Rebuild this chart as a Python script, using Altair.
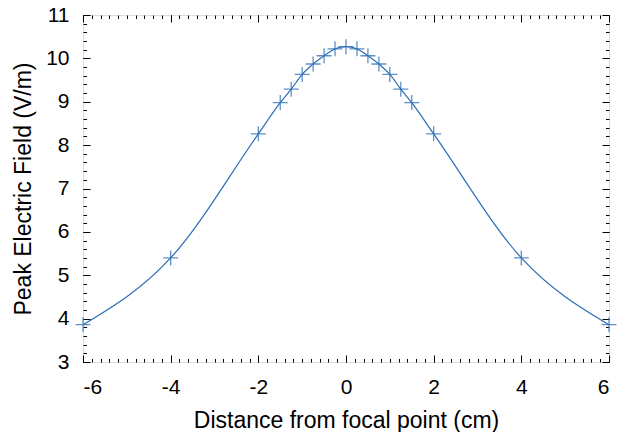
import altair as alt
import pandas as pd

distance = [-6, -4, -2, -1.5, -1.25, -1, -0.75, -0.5, -0.25, 0,
            0.25, 0.5, 0.75, 1, 1.25, 1.5, 2, 4, 6]
field = [3.86, 5.40, 8.26, 8.98, 9.29, 9.63, 9.87, 10.06, 10.22, 10.27,
         10.22, 10.06, 9.87, 9.63, 9.29, 8.98, 8.26, 5.40, 3.86]

x_major = [-6, -4, -2, 0, 2, 4, 6]
y_major = [3, 4, 5, 6, 7, 8, 9, 10, 11]
x_minor = [round(-6 + 0.2 * i, 1) for i in range(61)]
y_minor = [round(3 + 0.2 * i, 1) for i in range(41)]

df = pd.DataFrame({"x": distance, "y": field})

COLOR = "#2a6db5"
FONT = "Liberation Sans"
MAJ = 7
MIN = 3.5

xs = alt.Scale(domain=[-6, 6], nice=False, zero=False)
ys = alt.Scale(domain=[3, 11], nice=False, zero=False)

def ax(orient, values, size, labels=False, title=None, **kw):
    args = dict(orient=orient, values=values, tickSize=size, offset=-size,
                domain=False, grid=False, tickColor="black", tickWidth=1,
                labels=labels)
    if labels:
        args.update(labelFont=FONT, labelFontSize=21, labelColor="black",
                    labelExpr="'' + datum.value")
    if title:
        args.update(title=title, titleFont=FONT, titleFontSize=23,
                    titleFontWeight="normal", titleColor="black",
                    titleBaseline="alphabetic", titleLimit=500)
    else:
        args.update(title=None)
    args.update(kw)
    return alt.Axis(**args)

base = alt.Chart(df)

line = base.mark_line(color=COLOR, strokeWidth=1.2, interpolate="monotone").encode(
    x=alt.X("x:Q", scale=xs, axis=ax("bottom", x_major, MAJ, True,
                                      "Distance from focal point (cm)",
                                      labelPadding=14, titleY=72,
                                      titleX=263, titleAlign="center")),
    y=alt.Y("y:Q", scale=ys, axis=ax("left", y_major, MAJ, True,
                                      "Peak Electric Field (V/m)",
                                      labelPadding=14, titleX=-60,
                                      titleY=173.5, titleAlign="center",
                                      titleAngle=270)),
)

plus = "M-1,0L1,0M0,-1L0,1"
pts = base.mark_point(shape=plus, size=225, color=COLOR, filled=False,
                      strokeWidth=1.3, opacity=0.75).encode(
    x=alt.X("x:Q", scale=xs, axis=ax("top", x_major, MAJ)),
    y=alt.Y("y:Q", scale=ys, axis=ax("right", y_major, MAJ)),
)

minor1 = base.mark_point(opacity=0).encode(
    x=alt.X("x:Q", scale=xs, axis=ax("bottom", x_minor, MIN)),
    y=alt.Y("y:Q", scale=ys, axis=ax("left", y_minor, MIN)),
)
minor2 = base.mark_point(opacity=0).encode(
    x=alt.X("x:Q", scale=xs, axis=ax("top", x_minor, MIN)),
    y=alt.Y("y:Q", scale=ys, axis=ax("right", y_minor, MIN)),
)

chart = alt.layer(line, pts, minor1, minor2).resolve_axis(
    x="independent", y="independent"
).properties(
    width=526, height=347,
    autosize=alt.AutoSizeParams(type="none"),
    padding={"left": 75, "top": 7, "right": 12, "bottom": 70},
).configure_view(
    stroke="black", strokeWidth=1.2
).configure(background="white")

chart.save("out.html", embed_options={"renderer": "svg", "actions": False})
